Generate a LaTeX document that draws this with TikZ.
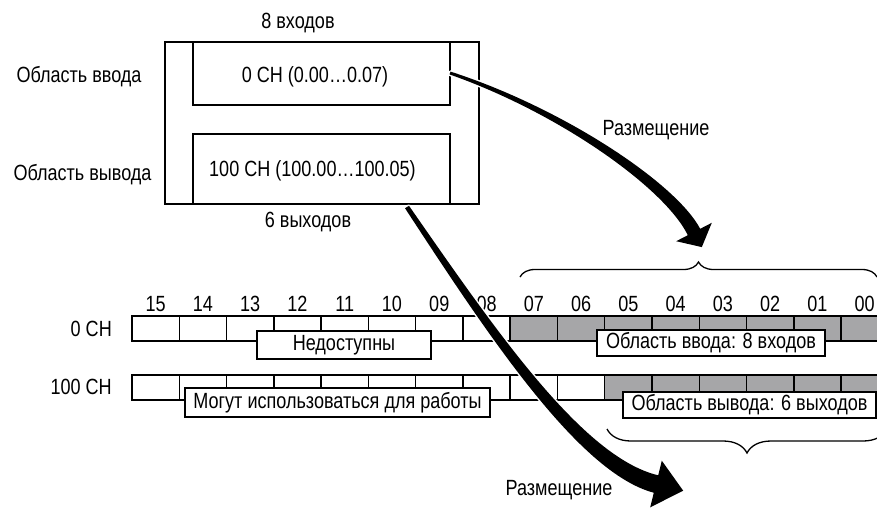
\documentclass[tikz,border=0pt]{standalone}
\usepackage{fontspec}
\setmainfont{Liberation Sans}[FakeStretch=0.82]
\usetikzlibrary{decorations.pathreplacing}
\definecolor{cellgray}{RGB}{166,166,168}
\newcommand\lbl{\fontsize{22}{25}\selectfont}
\tikzset{
  frame/.style={draw=black, line width=1.5pt, inner sep=0pt, outer sep=0pt, anchor=north west},
  cell/.style={draw=black, line width=1.5pt, inner sep=0pt, outer sep=0pt, minimum width=47.27pt, minimum height=25pt, anchor=north west},
  tag/.style={draw=black, fill=white, line width=1.3pt, inner sep=0pt, font=\lbl},
  txt/.style={inner sep=0pt, font=\lbl},
  arrowshape/.style={fill=black, preaction={draw=white, line width=3pt, line join=round}},
  bracestyle/.style={draw=black, line width=1.3pt, decorate, decoration={brace, amplitude=#1}}
}
\begin{document}
\begin{tikzpicture}[x=1pt,y=-1pt]
\useasboundingbox (0,0) rectangle (877,509);
\clip (0,0) rectangle (877,509);
% upper block
\node[frame, minimum width=314pt, minimum height=162pt] (outer) at (165,42) {};
\node[frame, minimum width=257pt, minimum height=63pt] (in0) at (193,42) {};
\node[frame, minimum width=257pt, minimum height=70pt] (in1) at (193,134) {};
\node[txt] (t0) at (315,77) {0 CH (0.00…0.07)};
\node[txt] (t1) at (312.5,171) {100 CH (100.00…100.05)};
\node[txt] (top8) at (298,23) {8 входов};
\node[txt] (bot6) at (308,222) {6 выходов};
\node[txt] (lin) at (79,77) {Область ввода};
\node[txt] (lout) at (82.5,175) {Область вывода};
% register rows
\foreach \i in {0,...,15}{
  \ifnum\i>7 \def\cfa{cellgray}\else\def\cfa{white}\fi
  \ifnum\i>9 \def\cfb{cellgray}\else\def\cfb{white}\fi
  \node[cell, fill=\cfa] (ra\i) at ({132+47.27*\i},316) {};
  \node[cell, fill=\cfb] (rb\i) at ({132+47.27*\i},375) {};
  \pgfmathtruncatemacro\b{15-\i}
  \node[txt] (bit\i) at ({132+47.27*(\i+0.5)},304) {\ifnum\b<10 0\b\else\b\fi};
}
\node[txt, anchor=east] (ch0) at (112,329) {0 CH};
\node[txt, anchor=east] (ch100) at (112,387) {100 CH};
\node[tag, minimum width=174pt, minimum height=28pt] (na) at (344,345) {Недоступны};
\node[tag, minimum width=228pt, minimum height=26pt] (ia) at (711,343) {Область ввода: 8 входов};
\node[tag, minimum width=305pt, minimum height=29pt] (fa) at (337.5,402.5) {Могут использоваться для работы};
\node[tag, minimum width=253pt, minimum height=26pt] (oa) at (749.5,405) {Область вывода: 6 выходов};
% arrows
\coordinate (a1s) at (450,73);
\coordinate (a2s) at (407,207);
\path[arrowshape] (450.5,71.6) .. controls (561.5,107.4) and (675.3,182.2) .. (700.2,228.8)
  -- (711.8,222.8) -- (701.8,247.1) -- (676.2,241.2) -- (687.8,235.2)
  .. controls (664.7,187.8) and (558.5,112.6) .. (449.5,74.4) -- cycle;
\path[arrowshape] (409,205.8) .. controls (493.6,327.3) and (581.9,457.2) .. (658.2,475.3)
  -- (661.8,460.7) -- (683.2,490.7) -- (650.2,507.3) -- (653.8,492.7)
  .. controls (578.1,472.8) and (486.4,332.7) .. (405,208.2) -- cycle;
\node[txt] (pl1) at (656,130) {Размещение};
\node[txt] (pl2) at (559,490) {Размещение};
% braces
\coordinate (b1l) at (520,277);
\coordinate (b1r) at (877,277);
\coordinate (b2l) at (607,429);
\coordinate (b2r) at (887,429);
\draw[bracestyle=15pt] (b1l) -- (b1r);
\draw[bracestyle=24pt, decoration={mirror}] (b2l) -- (b2r);
\end{tikzpicture}
\end{document}
